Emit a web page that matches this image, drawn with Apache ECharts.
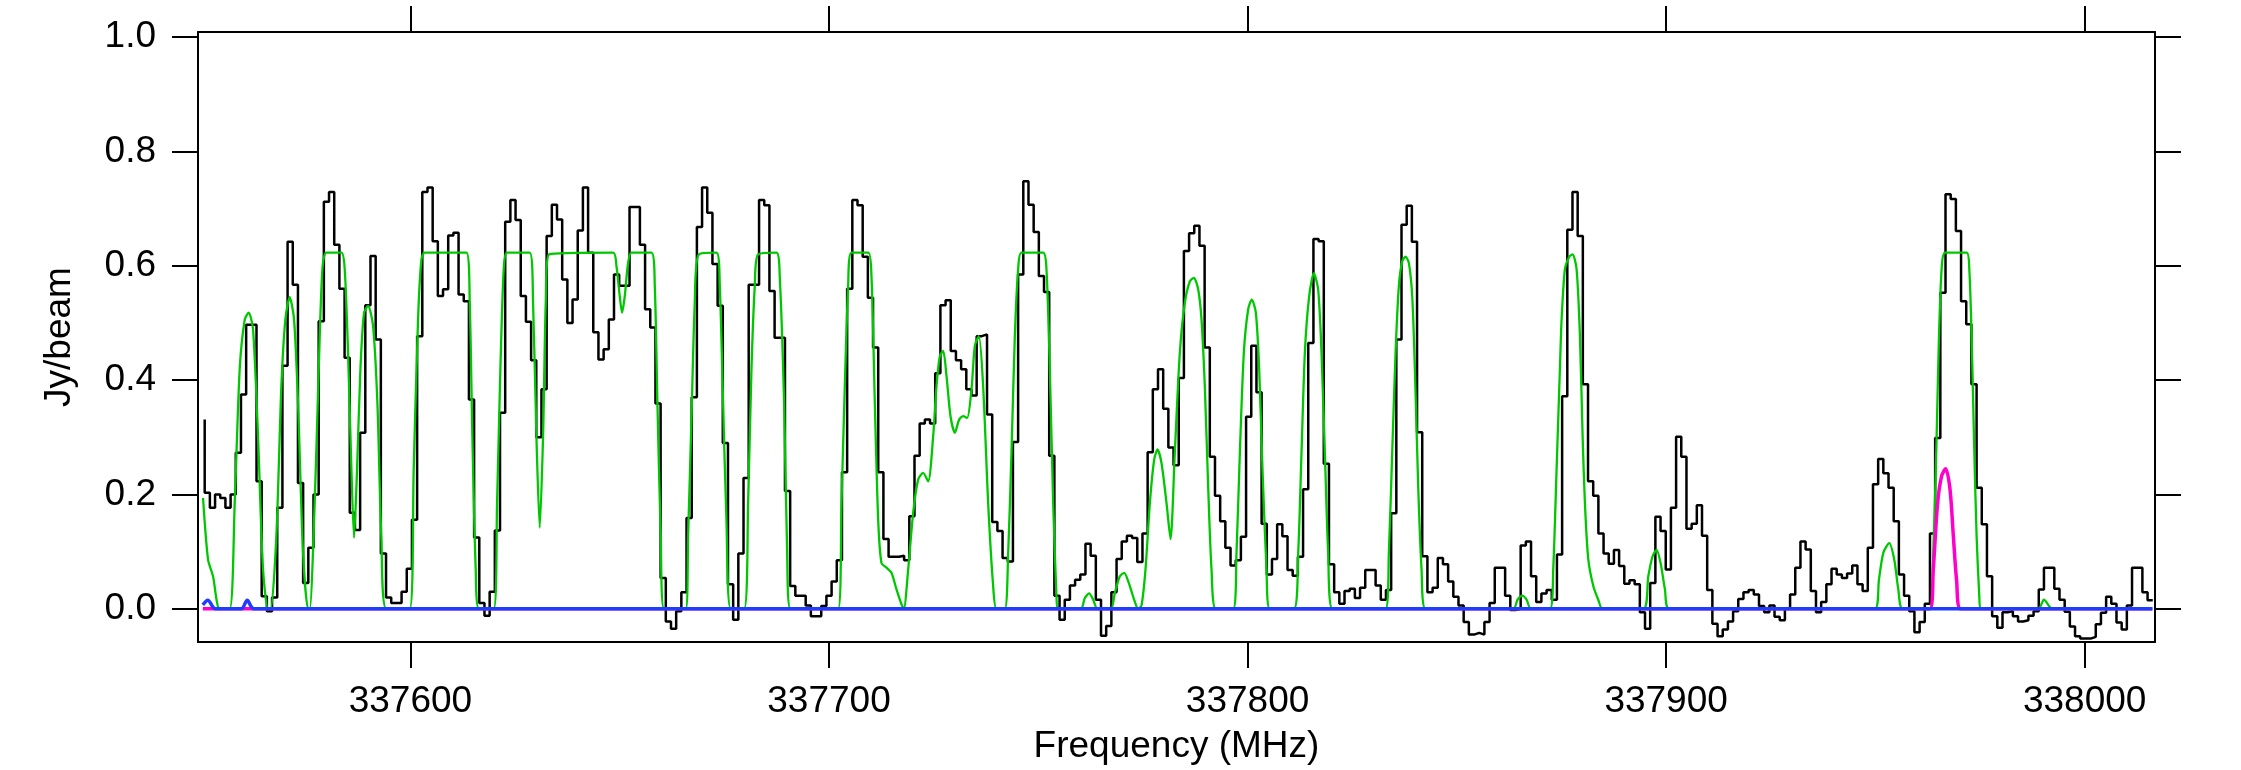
<!DOCTYPE html>
<html>
<head>
<meta charset="utf-8">
<title>Spectrum 337.55 - 338.02 GHz</title>
<script src="https://cdn.jsdelivr.net/npm/echarts@6/dist/echarts.min.js"></script>
<style>
html, body { margin: 0; padding: 0; background: #fff; }
#chart { width: 2241px; height: 770px; }
</style>
</head>
<body>
<div id="chart"></div>
<script>
// axis ranges and tick labels
const freqMin = 337549.25
const freqMax = 338016.8
const fluxMin = -0.058
const fluxMax = 1.009
const freqTicks = [337600, 337700, 337800, 337900, 338000]
const fluxTicks = [0, 0.2, 0.4, 0.6, 0.8, 1.0]

// observed spectrum: channel grid + flux per channel (Jy/beam)
const chanStart = 337550.85
const chanWidth = 1.2378
const observedFlux = [
	0.331, 0.203, 0.177, 0.2, 0.194, 0.177, 0.2, 0.273, 0.375, 0.497,
	0.497, 0.223, 0.022, -0.004, 0.02, 0.177, 0.425, 0.642, 0.567, 0.22,
	0.045, 0.107, 0.2, 0.503, 0.712, 0.729, 0.637, 0.56, 0.439, 0.168,
	0.138, 0.308, 0.531, 0.617, 0.471, 0.097, 0.02, 0.01, 0.01, 0.03,
	0.07, 0.156, 0.477, 0.729, 0.737, 0.643, 0.547, 0.559, 0.653, 0.658,
	0.55, 0.538, 0.366, 0.125, 0.01, -0.012, 0.03, 0.137, 0.343, 0.677,
	0.715, 0.68, 0.547, 0.502, 0.435, 0.3, 0.384, 0.652, 0.707, 0.681,
	0.576, 0.5, 0.541, 0.662, 0.737, 0.623, 0.484, 0.436, 0.454, 0.506,
	0.585, 0.565, 0.565, 0.703, 0.703, 0.637, 0.524, 0.492, 0.359, 0.054,
	-0.022, -0.035, -0.004, 0.029, 0.159, 0.37, 0.668, 0.737, 0.693, 0.603,
	0.53, 0.29, 0.043, -0.019, 0.097, 0.229, 0.567, 0.567, 0.715, 0.706,
	0.556, 0.474, 0.474, 0.206, 0.04, 0.023, 0.023, 0.006, -0.013, -0.013,
	0.005, 0.023, 0.048, 0.085, 0.239, 0.56, 0.715, 0.706, 0.616, 0.544,
	0.457, 0.239, 0.122, 0.091, 0.091, 0.093, 0.085, 0.162, 0.268, 0.324,
	0.331, 0.324, 0.412, 0.531, 0.54, 0.451, 0.435, 0.419, 0.384, 0.373,
	0.477, 0.48, 0.34, 0.152, 0.136, 0.089, 0.083, 0.292, 0.585, 0.748,
	0.707, 0.659, 0.582, 0.554, 0.268, 0.023, -0.019, 0.016, 0.041, 0.051,
	0.06, 0.114, 0.093, 0.016, -0.047, -0.03, 0.029, 0.087, 0.118, 0.128,
	0.124, 0.082, 0.132, 0.274, 0.384, 0.419, 0.35, 0.282, 0.251, 0.404,
	0.626, 0.657, 0.67, 0.635, 0.457, 0.266, 0.198, 0.153, 0.107, 0.076,
	0.085, 0.126, 0.336, 0.46, 0.379, 0.149, 0.06, 0.087, 0.148, 0.127,
	0.068, 0.058, 0.091, 0.209, 0.465, 0.647, 0.643, 0.254, 0.078, 0.029,
	0.009, 0.031, 0.035, 0.019, 0.037, 0.068, 0.068, 0.041, 0.016, 0.033,
	0.167, 0.471, 0.672, 0.705, 0.642, 0.309, 0.092, 0.029, 0.037, 0.089,
	0.078, 0.048, 0.021, 0.006, -0.023, -0.045, -0.042, -0.045, -0.023, 0.01,
	0.072, 0.072, 0.023, -0.002, 0.0, 0.111, 0.118, 0.057, 0.012, 0.027,
	0.033, 0.016, 0.095, 0.372, 0.663, 0.729, 0.652, 0.393, 0.223, 0.198,
	0.132, 0.097, 0.079, 0.103, 0.075, 0.044, 0.05, 0.043, -0.006, -0.035,
	0.045, 0.161, 0.136, 0.069, 0.177, 0.301, 0.266, 0.14, 0.149, 0.181,
	0.128, 0.033, -0.026, -0.048, -0.036, -0.022, -0.004, 0.017, 0.029, 0.033,
	0.025, 0.005, -0.006, 0.006, -0.014, -0.02, 0.0, 0.025, 0.072, 0.118,
	0.104, 0.031, -0.006, 0.012, 0.043, 0.07, 0.06, 0.054, 0.062, 0.076,
	0.043, 0.031, 0.107, 0.218, 0.262, 0.237, 0.212, 0.153, 0.06, 0.023,
	-0.004, -0.041, -0.023, 0.009, 0.132, 0.299, 0.553, 0.725, 0.717, 0.661,
	0.538, 0.498, 0.393, 0.212, 0.148, 0.057, -0.013, -0.033, -0.006, -0.004,
	-0.013, -0.022, -0.02, -0.012, -0.004, 0.034, 0.072, 0.072, 0.035, 0.016,
	-0.005, -0.031, -0.048, -0.052, -0.052, -0.049, -0.027, -0.007, 0.021, 0.009,
	-0.024, -0.036, 0.006, 0.072, 0.072, 0.029, 0.015
]

// model spectrum (green), [MHz, Jy/beam]
const modelGreen = [
	[337550.45, 0.194], [337551.65, 0.086], [337552.84, 0.057], [337554.43, 0], [337556.82, 0],
	[337558.02, 0.185], [337559.21, 0.419], [337560.41, 0.506], [337561.36, 0.518], [337562.4, 0.489],
	[337563.59, 0.302], [337564.79, 0.069], [337565.98, 0], [337566.62, 0], [337567.97, 0.127],
	[337569.17, 0.39], [337570.12, 0.506], [337571.16, 0.545], [337572.2, 0.506], [337573.15, 0.36],
	[337574.35, 0.098], [337575.54, 0], [337575.94, 0], [337577.13, 0.185], [337578.09, 0.419],
	[337578.97, 0.594], [337579.92, 0.623], [337583.51, 0.623], [337584.3, 0.594], [337585.1, 0.448],
	[337585.9, 0.244], [337586.53, 0.124], [337587.25, 0.244], [337588.05, 0.419], [337588.92, 0.518],
	[337589.88, 0.53], [337591.07, 0.495], [337592.11, 0.36], [337593.06, 0.124], [337594.26, 0],
	[337599.83, 0], [337600.78, 0.244], [337601.82, 0.506], [337602.62, 0.611], [337603.41, 0.623],
	[337613.37, 0.623], [337614.17, 0.535], [337614.8, 0.302], [337615.6, 0.069], [337616.4, 0],
	[337619.9, 0], [337620.7, 0.185], [337621.49, 0.419], [337622.29, 0.594], [337623.09, 0.623],
	[337628.5, 0.623], [337629.3, 0.535], [337630.1, 0.302], [337630.89, 0.142], [337631.69, 0.302],
	[337632.33, 0.535], [337633.12, 0.62], [337648.42, 0.623], [337649.22, 0.6], [337650.01, 0.547],
	[337650.57, 0.518], [337651.21, 0.547], [337652.0, 0.605], [337652.8, 0.623], [337657.58, 0.623],
	[337658.38, 0.565], [337659.01, 0.36], [337659.81, 0.127], [337660.61, 0], [337665.78, 0],
	[337666.34, 0.127], [337667.14, 0.331], [337667.93, 0.535], [337668.89, 0.62], [337673.11, 0.623],
	[337673.91, 0.565], [337674.7, 0.36], [337675.5, 0.156], [337676.54, 0], [337679.72, 0],
	[337680.68, 0.185], [337681.48, 0.419], [337682.27, 0.565], [337683.07, 0.62], [337687.45, 0.623],
	[337688.24, 0.58], [337689.28, 0.36], [337690.0, 0.1], [337690.8, 0], [337702.19, 0],
	[337702.99, 0.185], [337703.78, 0.39], [337704.58, 0.565], [337705.37, 0.623], [337709.36, 0.623],
	[337710.15, 0.582], [337710.95, 0.36], [337711.75, 0.156], [337712.54, 0.08], [337713.74, 0.072],
	[337714.93, 0.063], [337716.13, 0.034], [337717.32, 0.008], [337717.88, 0], [337718.92, 0.069],
	[337720.11, 0.168], [337721.3, 0.226], [337722.5, 0.238], [337723.69, 0.223], [337724.89, 0.302],
	[337725.69, 0.39], [337726.48, 0.442], [337727.28, 0.451], [337728.08, 0.407], [337729.03, 0.337],
	[337730.07, 0.308], [337731.1, 0.331], [337732.06, 0.337], [337733.01, 0.334], [337734.05, 0.384],
	[337734.84, 0.46], [337735.8, 0.477], [337736.83, 0.389], [337738.03, 0.185], [337739.22, 0.04],
	[337740.02, 0], [337742.01, 0], [337742.81, 0.098], [337743.6, 0.273], [337744.4, 0.477],
	[337745.19, 0.594], [337745.99, 0.623], [337751.17, 0.623], [337751.96, 0.594], [337752.76, 0.419],
	[337753.56, 0.185], [337754.35, 0.022], [337754.75, 0], [337760.17, 0], [337761.12, 0.019],
	[337762.16, 0.027], [337763.12, 0.016], [337764.15, 0], [337767.34, 0], [337768.29, 0.028],
	[337769.49, 0.057], [337770.52, 0.063], [337771.64, 0.045], [337772.91, 0.016], [337773.87, 0],
	[337774.67, 0.006], [337775.62, 0.069], [337776.66, 0.185], [337777.69, 0.261], [337778.49, 0.279],
	[337779.44, 0.255], [337780.64, 0.185], [337781.6, 0.122], [337782.62, 0.273], [337783.82, 0.448],
	[337785.01, 0.535], [337786.21, 0.573], [337787.16, 0.579], [337788.2, 0.559], [337789.0, 0.506],
	[337789.79, 0.389], [337790.59, 0.214], [337791.39, 0.069], [337792.42, 0], [337796.56, 0],
	[337797.36, 0.098], [337798.16, 0.273], [337799.11, 0.448], [337800.15, 0.524], [337801.02, 0.541],
	[337801.98, 0.518], [337802.78, 0.419], [337803.57, 0.244], [337804.53, 0.069], [337805.32, 0],
	[337811.06, 0], [337812.1, 0.098], [337812.89, 0.273], [337813.69, 0.448], [337814.72, 0.547],
	[337815.84, 0.587], [337816.87, 0.559], [337817.67, 0.448], [337818.47, 0.273], [337819.26, 0.098],
	[337820.3, 0], [337832.97, 0], [337833.76, 0.098], [337834.56, 0.273], [337835.36, 0.448],
	[337836.15, 0.565], [337836.95, 0.608], [337837.75, 0.616], [337838.54, 0.605], [337839.34, 0.547],
	[337839.98, 0.419], [337840.77, 0.214], [337841.57, 0.069], [337842.53, 0], [337863.47, 0],
	[337864.51, 0.016], [337865.62, 0.023], [337866.66, 0.016], [337867.7, 0], [337872.24, 0],
	[337873.03, 0.069], [337873.83, 0.244], [337874.62, 0.419], [337875.03, 0.506], [337875.82, 0.594],
	[337876.86, 0.616], [337877.66, 0.62], [337878.61, 0.594], [337879.41, 0.477], [337880.05, 0.302],
	[337880.6, 0.185], [337881.4, 0.087], [337882.6, 0.04], [337883.79, 0.016], [337884.83, 0],
	[337894.54, 0], [337895.74, 0.057], [337896.77, 0.092], [337897.73, 0.103], [337898.68, 0.08],
	[337899.72, 0.034], [337900.76, 0], [337949.89, 0], [337950.85, 0.051], [337951.89, 0.098],
	[337953.32, 0.115], [337954.51, 0.086], [337955.47, 0.034], [337956.5, 0], [337963.04, 0],
	[337963.83, 0.098], [337964.63, 0.302], [337965.19, 0.477], [337965.82, 0.594], [337966.62, 0.623],
	[337971.79, 0.623], [337972.43, 0.594], [337972.99, 0.477], [337973.54, 0.302], [337974.18, 0.127],
	[337974.82, 0.022], [337975.14, 0], [337988.92, 0], [337990.27, 0.016], [337991.7, 0.003],
	[337992.5, 0], [338016.16, 0]
]

// second model (magenta)
const modelMagenta = [
	[337550.4, 0], [337963.03, 0], [337963.83, 0.069], [337964.87, 0.185], [337965.82, 0.232],
	[337966.78, 0.245], [337967.81, 0.21], [337968.6, 0.13], [337969.4, 0.05], [337970.4, 0],
	[338016.16, 0]
]

// third model (blue)
const modelBlue = [
	[337550.4, 0.007], [337551.6, 0.015], [337553.4, 0], [337559.6, 0], [337561.0, 0.015],
	[337562.6, 0], [338016.16, 0]
]

const font = "'Liberation Sans', Arial, Helvetica, sans-serif"
const black = "#000"

const chart = echarts.init(document.getElementById("chart"), null, { renderer: "canvas" })

const observed = observedFlux.map((v, i) => [chanStart + i * chanWidth, v])

const tick = (values) => ({
	show: true,
	inside: false,
	length: 26,
	customValues: values,
	lineStyle: { color: black, width: 2 }
})
const line = { show: true, onZero: false, lineStyle: { color: black, width: 2 } }

let option = {
	animation: false,
	backgroundColor: "#fff",
	grid: {
		left: 198,
		right: 86,
		top: 32,
		bottom: 128,
		outerBoundsMode: "none"
	},
	xAxis: [
		{
			type: "value",
			position: "bottom",
			min: freqMin,
			max: freqMax,
			name: "Frequency (MHz)",
			nameLocation: "middle",
			nameGap: 86,
			nameTextStyle: { fontSize: 37, color: black, fontFamily: font },
			axisLine: line,
			axisTick: tick(freqTicks),
			axisLabel: {
				customValues: freqTicks,
				fontSize: 37,
				color: black,
				fontFamily: font,
				margin: 41,
				formatter: (v) => String(v)
			},
			splitLine: { show: false }
		},
		{
			type: "value",
			position: "top",
			min: freqMin,
			max: freqMax,
			axisLine: line,
			axisTick: tick(freqTicks),
			axisLabel: { show: false },
			splitLine: { show: false }
		}
	],
	yAxis: [
		{
			type: "value",
			position: "left",
			min: fluxMin,
			max: fluxMax,
			name: "Jy/beam",
			nameLocation: "middle",
			nameGap: 120,
			nameTextStyle: { fontSize: 37, color: black, fontFamily: font },
			axisLine: line,
			axisTick: tick(fluxTicks),
			axisLabel: {
				customValues: fluxTicks,
				fontSize: 37,
				color: black,
				fontFamily: font,
				margin: 42,
				formatter: (v) => v.toFixed(1)
			},
			splitLine: { show: false }
		},
		{
			type: "value",
			position: "right",
			min: fluxMin,
			max: fluxMax,
			axisLine: line,
			axisTick: tick(fluxTicks),
			axisLabel: { show: false },
			splitLine: { show: false }
		}
	],
	series: [
		{
			name: "observed",
			type: "line",
			step: "start",
			showSymbol: false,
			data: observed,
			lineStyle: { color: "#000", width: 2.5 },
			z: 2
		},
		{
			name: "model",
			type: "line",
			smooth: 0.25,
			showSymbol: false,
			data: modelGreen,
			lineStyle: { color: "#00c800", width: 2.3 },
			z: 3
		},
		{
			name: "model 2",
			type: "line",
			smooth: 0.3,
			showSymbol: false,
			data: modelMagenta,
			lineStyle: { color: "#ff00cc", width: 3.5 },
			z: 4
		},
		{
			name: "model 3",
			type: "line",
			smooth: 0.3,
			showSymbol: false,
			data: modelBlue,
			lineStyle: { color: "#1f3cff", width: 3.5 },
			z: 5
		}
	]
}
chart.setOption(option)
</script>
</body>
</html>
